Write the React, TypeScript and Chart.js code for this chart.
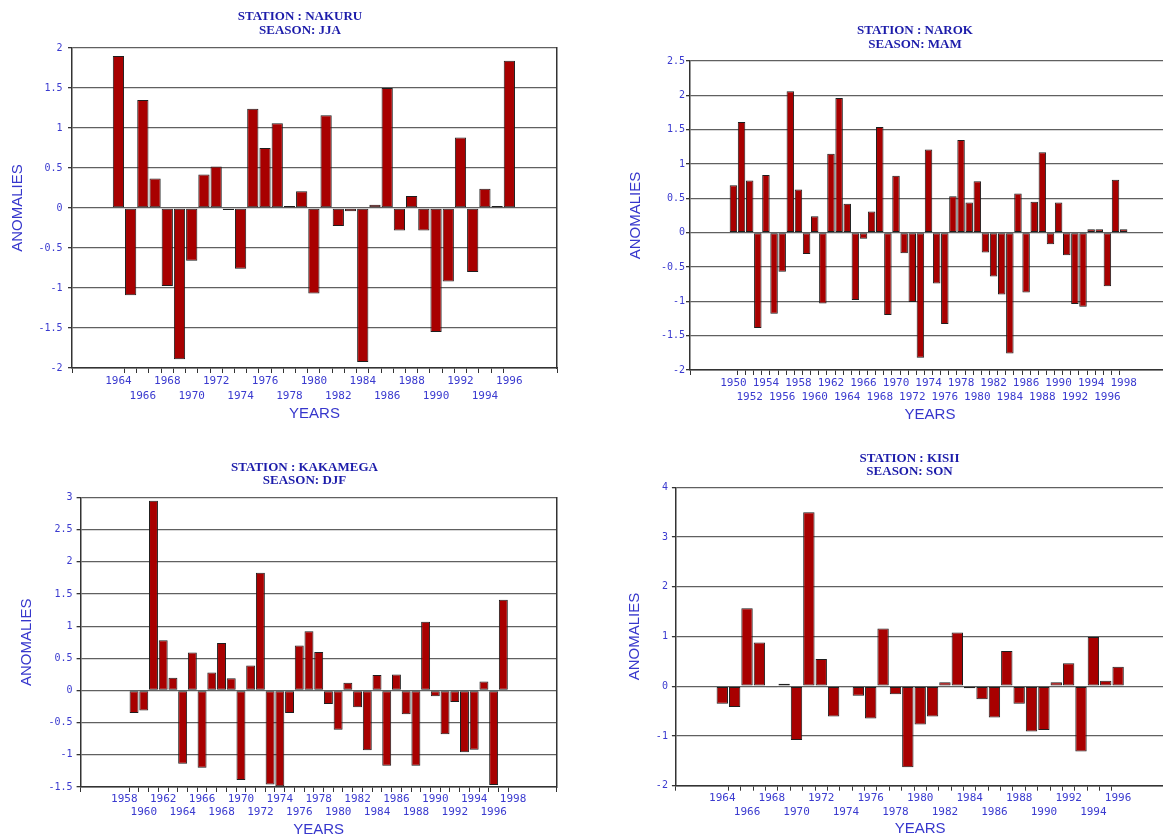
import React, { useEffect, useRef } from 'react';
import { Chart, registerables } from 'chart.js';

Chart.register(...registerables);

// ---------------- DATA ----------------
// NAKURU, season JJA, 1964-1996
const nakuruStartYear = 1964;
const nakuruValues = [
  1.9, -1.09, 1.35, 0.37, -0.975, -1.89, -0.66, 0.42, 0.52, -0.025, -0.76,
  1.24, 0.75, 1.06, 0.025, 0.21, -1.07, 1.16, -0.225, -0.04, -1.925, 0.04,
  1.5, -0.28, 0.15, -0.28, -1.55, -0.92, 0.88, -0.8, 0.24, 0.025, 1.84,
];
const nakuruTickLabels = [
  '1964', '1966', '1968', '1970', '1972', '1974', '1976', '1978', '1980',
  '1982', '1984', '1986', '1988', '1990', '1992', '1994', '1996',
];

// NAROK, season MAM, 1950-1998
const narokStartYear = 1950;
const narokValues = [
  0.69, 1.61, 0.76, -1.39, 0.84, -1.18, -0.57, 2.06, 0.63, -0.31, 0.24,
  -1.03, 1.15, 1.96, 0.42, -0.98, -0.09, 0.31, 1.54, -1.2, 0.83, -0.3,
  -1.01, -1.82, 1.21, -0.74, -1.33, 0.53, 1.35, 0.44, 0.75, -0.29, -0.64,
  -0.9, -1.76, 0.57, -0.87, 0.45, 1.17, -0.17, 0.44, -0.33, -1.04, -1.08,
  0.05, 0.05, -0.78, 0.77, 0.05,
];
const narokTickLabels = [
  '1950', '1952', '1954', '1956', '1958', '1960', '1962', '1964', '1966',
  '1968', '1970', '1972', '1974', '1976', '1978', '1980', '1982', '1984',
  '1986', '1988', '1990', '1992', '1994', '1996', '1998',
];

// KAKAMEGA, season DJF, 1958-1997
const kakamegaStartYear = 1958;
const kakamegaValues = [
  0.01, -0.35, -0.31, 2.95, 0.78, 0.2, -1.14, 0.59, -1.2, 0.28, 0.74, 0.19,
  -1.39, 0.39, 1.83, -1.46, -1.49, -0.35, 0.7, 0.92, 0.6, -0.21, -0.61, 0.12,
  -0.26, -0.93, 0.24, -1.17, 0.25, -0.37, -1.17, 1.07, -0.09, -0.68, -0.18,
  -0.96, -0.92, 0.14, -1.47, 1.41,
];
const kakamegaTickLabels = [
  '1958', '1960', '1962', '1964', '1966', '1968', '1970', '1972', '1974',
  '1976', '1978', '1980', '1982', '1984', '1986', '1988', '1990', '1992',
  '1994', '1996', '1998',
];

// KISII, season SON, 1964-1996
const kisiiStartYear = 1964;
const kisiiValues = [
  -0.35, -0.42, 1.57, 0.88, -0.02, 0.05, -1.08, 3.5, 0.55, -0.61, -0.02,
  -0.19, -0.65, 1.16, -0.16, -1.63, -0.77, -0.61, 0.08, 1.08, -0.04, -0.26,
  -0.63, 0.71, -0.35, -0.91, -0.88, 0.08, 0.46, -1.31, 0.99, 0.11, 0.39,
];
const kisiiTickLabels = [
  '1964', '1966', '1968', '1970', '1972', '1974', '1976', '1978', '1980',
  '1982', '1984', '1986', '1988', '1990', '1992', '1994', '1996',
];

// ---------------- STYLE ----------------
const BAR_FILL = '#a80000';
const BAR_EDGE = '#1e1e1e';
const TITLE_BLUE = '#1c1caa';
const TICK_BLUE = '#3a3acf';
const AXIS_TITLE_BLUE = '#3636cc';
const GRID = '#606060';
const AXIS = '#333333';
const MONO = "'DejaVu Sans Mono', 'Liberation Mono', monospace";
const SERIF = "'Liberation Serif', 'Times New Roman', serif";
const SANS = "'Liberation Sans', Arial, sans-serif";

// ---------------- LAYOUT (page pixel coordinates) ----------------
type Spec = {
  station: string;
  season: string;
  startYear: number;
  values: number[];
  tickLabels: string[];
  yMin: number;
  yMax: number;
  yStep: number;
  xMin: number;
  xMax: number;
  canvas: { x: number; y: number; w: number; h: number };
  plot: { l: number; r: number; t: number; b: number };
  titleY: number;
  titleLH: number;
  xLabelLH: number;
  xLabelPad: number;
  yTickPad: number;
  yTitleX: number;
  xTitleY: number;
};

const panels: Spec[] = [
  {
    station: 'NAKURU', season: 'JJA', startYear: nakuruStartYear,
    values: nakuruValues, tickLabels: nakuruTickLabels,
    yMin: -2, yMax: 2, yStep: 0.5, xMin: 1960.2, xMax: 1999.9,
    canvas: { x: 0, y: 0, w: 600, h: 430 },
    plot: { l: 72, r: 557, t: 48, b: 368 },
    titleY: 16.3, titleLH: 14, xLabelLH: 15, xLabelPad: 0.3,
    yTickPad: 5.5, yTitleX: 17.6, xTitleY: 414.2,
  },
  {
    station: 'NAROK', season: 'MAM', startYear: narokStartYear,
    values: narokValues, tickLabels: narokTickLabels,
    yMin: -2, yMax: 2.5, yStep: 0.5, xMin: 1944.66, xMax: 2003.7,
    canvas: { x: 600, y: 0, w: 630, h: 430 },
    plot: { l: 690, r: 1170, t: 61, b: 370 },
    titleY: 30.8, titleLH: 13.6, xLabelLH: 14.2, xLabelPad: 0.7,
    yTickPad: 1, yTitleX: 636, xTitleY: 415,
  },
  {
    station: 'KAKAMEGA', season: 'DJF', startYear: kakamegaStartYear,
    values: kakamegaValues, tickLabels: kakamegaTickLabels,
    yMin: -1.5, yMax: 3, yStep: 0.5, xMin: 1953.5, xMax: 2002.5,
    canvas: { x: 0, y: 440, w: 609, h: 398 },
    plot: { l: 80.6, r: 556.8, t: 497.5, b: 787 },
    titleY: 467.8, titleLH: 12.8, xLabelLH: 13.5, xLabelPad: 0.25,
    yTickPad: 4, yTitleX: 26.8, xTitleY: 829.5,
  },
  {
    station: 'KISII', season: 'SON', startYear: kisiiStartYear,
    values: kisiiValues, tickLabels: kisiiTickLabels,
    yMin: -2, yMax: 4, yStep: 1, xMin: 1960.25, xMax: 1999.75,
    canvas: { x: 600, y: 440, w: 619, h: 398 },
    plot: { l: 675.9, r: 1164.5, t: 487.3, b: 785.7 },
    titleY: 458.3, titleLH: 12.9, xLabelLH: 13.7, xLabelPad: 0.75,
    yTickPad: 4, yTitleX: 634.8, xTitleY: 829,
  },
];

function Panel({ spec }: { spec: Spec }) {
  const ref = useRef<HTMLCanvasElement>(null);

  useEffect(() => {
    const s = spec;
    const c = s.canvas;
    const plotL = s.plot.l - c.x;
    const plotR = s.plot.r - c.x;
    const plotT = s.plot.t - c.y;
    const plotB = s.plot.b - c.y;
    const rightW = c.w - plotR;
    const xAxisH = c.h - plotB;
    const titlePadTop = s.titleY - c.y - s.titleLH / 2;
    const titlePadBottom = plotT - titlePadTop - 2 * s.titleLH;
    const yTitlePad = s.yTitleX - c.x - 7.5;
    const xTitlePad = c.y + c.h - s.xTitleY - 7.5;
    const slot = (plotR - plotL) / (s.xMax - s.xMin);

    const points = s.values.map((v, i) => ({ x: s.startYear + i, y: v }));
    const labelYears = s.tickLabels.map(Number);
    const firstLab = labelYears[0];
    const lastLab = labelYears[labelYears.length - 1];
    const tickValues: number[] = [s.xMin];
    for (let yr = firstLab; yr <= lastLab; yr++) tickValues.push(yr + 0.5);
    tickValues.push(s.xMax);

    const chart = new Chart(ref.current as HTMLCanvasElement, {
      type: 'bar',
      data: {
        datasets: [
          {
            data: points as any,
            xAxisID: 'x',
            yAxisID: 'y',
            backgroundColor: BAR_FILL,
            borderColor: BAR_EDGE,
            borderWidth: 1,
            borderSkipped: false,
            barPercentage: 0.92,
            categoryPercentage: 1,
          },
        ],
      },
      options: {
        animation: false,
        responsive: false,
        devicePixelRatio: 1,
        layout: { padding: 0 },
        plugins: {
          legend: { display: false },
          tooltip: { enabled: false },
          title: {
            display: true,
            text: [`STATION : ${s.station}`, `SEASON: ${s.season}`],
            color: TITLE_BLUE,
            font: { family: SERIF, size: 13, weight: 'bold', lineHeight: s.titleLH + 'px' },
            padding: { top: titlePadTop, bottom: titlePadBottom },
          },
        },
        scales: {
          x: {
            type: 'linear',
            position: 'bottom',
            min: s.xMin,
            max: s.xMax,
            offset: false,
            bounds: 'data',
            afterBuildTicks: (scale: any) => {
              scale.ticks = tickValues.map((v) => ({ value: v }));
            },
            afterFit: (scale: any) => {
              scale.height = xAxisH;
            },
            grid: {
              display: true,
              drawOnChartArea: false,
              drawTicks: true,
              tickLength: 5,
              offset: false,
              color: AXIS,
              tickColor: (ctx: any) =>
                ctx.tick && Math.abs(ctx.tick.value - (lastLab + 0.5)) < 1e-6
                  ? 'rgba(0,0,0,0)'
                  : AXIS,
            },
            border: { display: true, color: AXIS, width: 1.5 },
            ticks: {
              autoSkip: false,
              maxRotation: 0,
              minRotation: 0,
              padding: s.xLabelPad,
              labelOffset: -slot / 2,
              color: TICK_BLUE,
              font: { family: MONO, size: 11, lineHeight: s.xLabelLH + 'px' },
              callback: (value: any) => {
                const v = Number(value);
                const yr = Math.round(v - 0.5);
                if (Math.abs(v - 0.5 - yr) > 1e-6) return '';
                const idx = s.tickLabels.indexOf(String(yr));
                if (idx < 0) return '';
                return idx % 2 === 0 ? [s.tickLabels[idx]] : ['', s.tickLabels[idx]];
              },
            },
            title: {
              display: true,
              text: 'YEARS',
              color: AXIS_TITLE_BLUE,
              font: { family: SANS, size: 15, lineHeight: '15px' },
              padding: { top: 0, bottom: xTitlePad },
            },
          },
          y: {
            type: 'linear',
            position: 'left',
            min: s.yMin,
            max: s.yMax,
            afterFit: (scale: any) => {
              scale.width = plotL;
            },
            grid: {
              color: GRID,
              lineWidth: 1.3,
              drawTicks: true,
              tickLength: 4,
              tickColor: AXIS,
            },
            border: { display: true, color: AXIS, width: 1.5 },
            ticks: {
              stepSize: s.yStep,
              padding: s.yTickPad,
              color: TICK_BLUE,
              font: { family: MONO, size: 10 },
              callback: (value: any) => String(value),
            },
            title: {
              display: true,
              text: 'ANOMALIES',
              color: AXIS_TITLE_BLUE,
              font: { family: SANS, size: 15, lineHeight: '15px' },
              padding: { top: yTitlePad, bottom: 0 },
            },
          },
          yRight: {
            type: 'linear',
            axis: 'y',
            position: 'right',
            display: true,
            afterFit: (scale: any) => {
              scale.width = rightW;
            },
            grid: { display: false, drawTicks: false },
            ticks: { display: false },
            border: { display: true, color: AXIS, width: 1.5 },
          },
        } as any,
      },
    });
    return () => chart.destroy();
  }, [spec]);

  return (
    <canvas
      ref={ref}
      width={spec.canvas.w}
      height={spec.canvas.h}
      style={{
        position: 'absolute',
        left: spec.canvas.x,
        top: spec.canvas.y,
        width: spec.canvas.w,
        height: spec.canvas.h,
      }}
    />
  );
}

export default function App() {
  return (
    <div
      style={{
        position: 'absolute',
        left: 0,
        top: 0,
        width: 1163,
        height: 838,
        overflow: 'hidden',
        background: '#ffffff',
      }}
    >
      {panels.map((p) => (
        <Panel key={p.station} spec={p} />
      ))}
    </div>
  );
}
